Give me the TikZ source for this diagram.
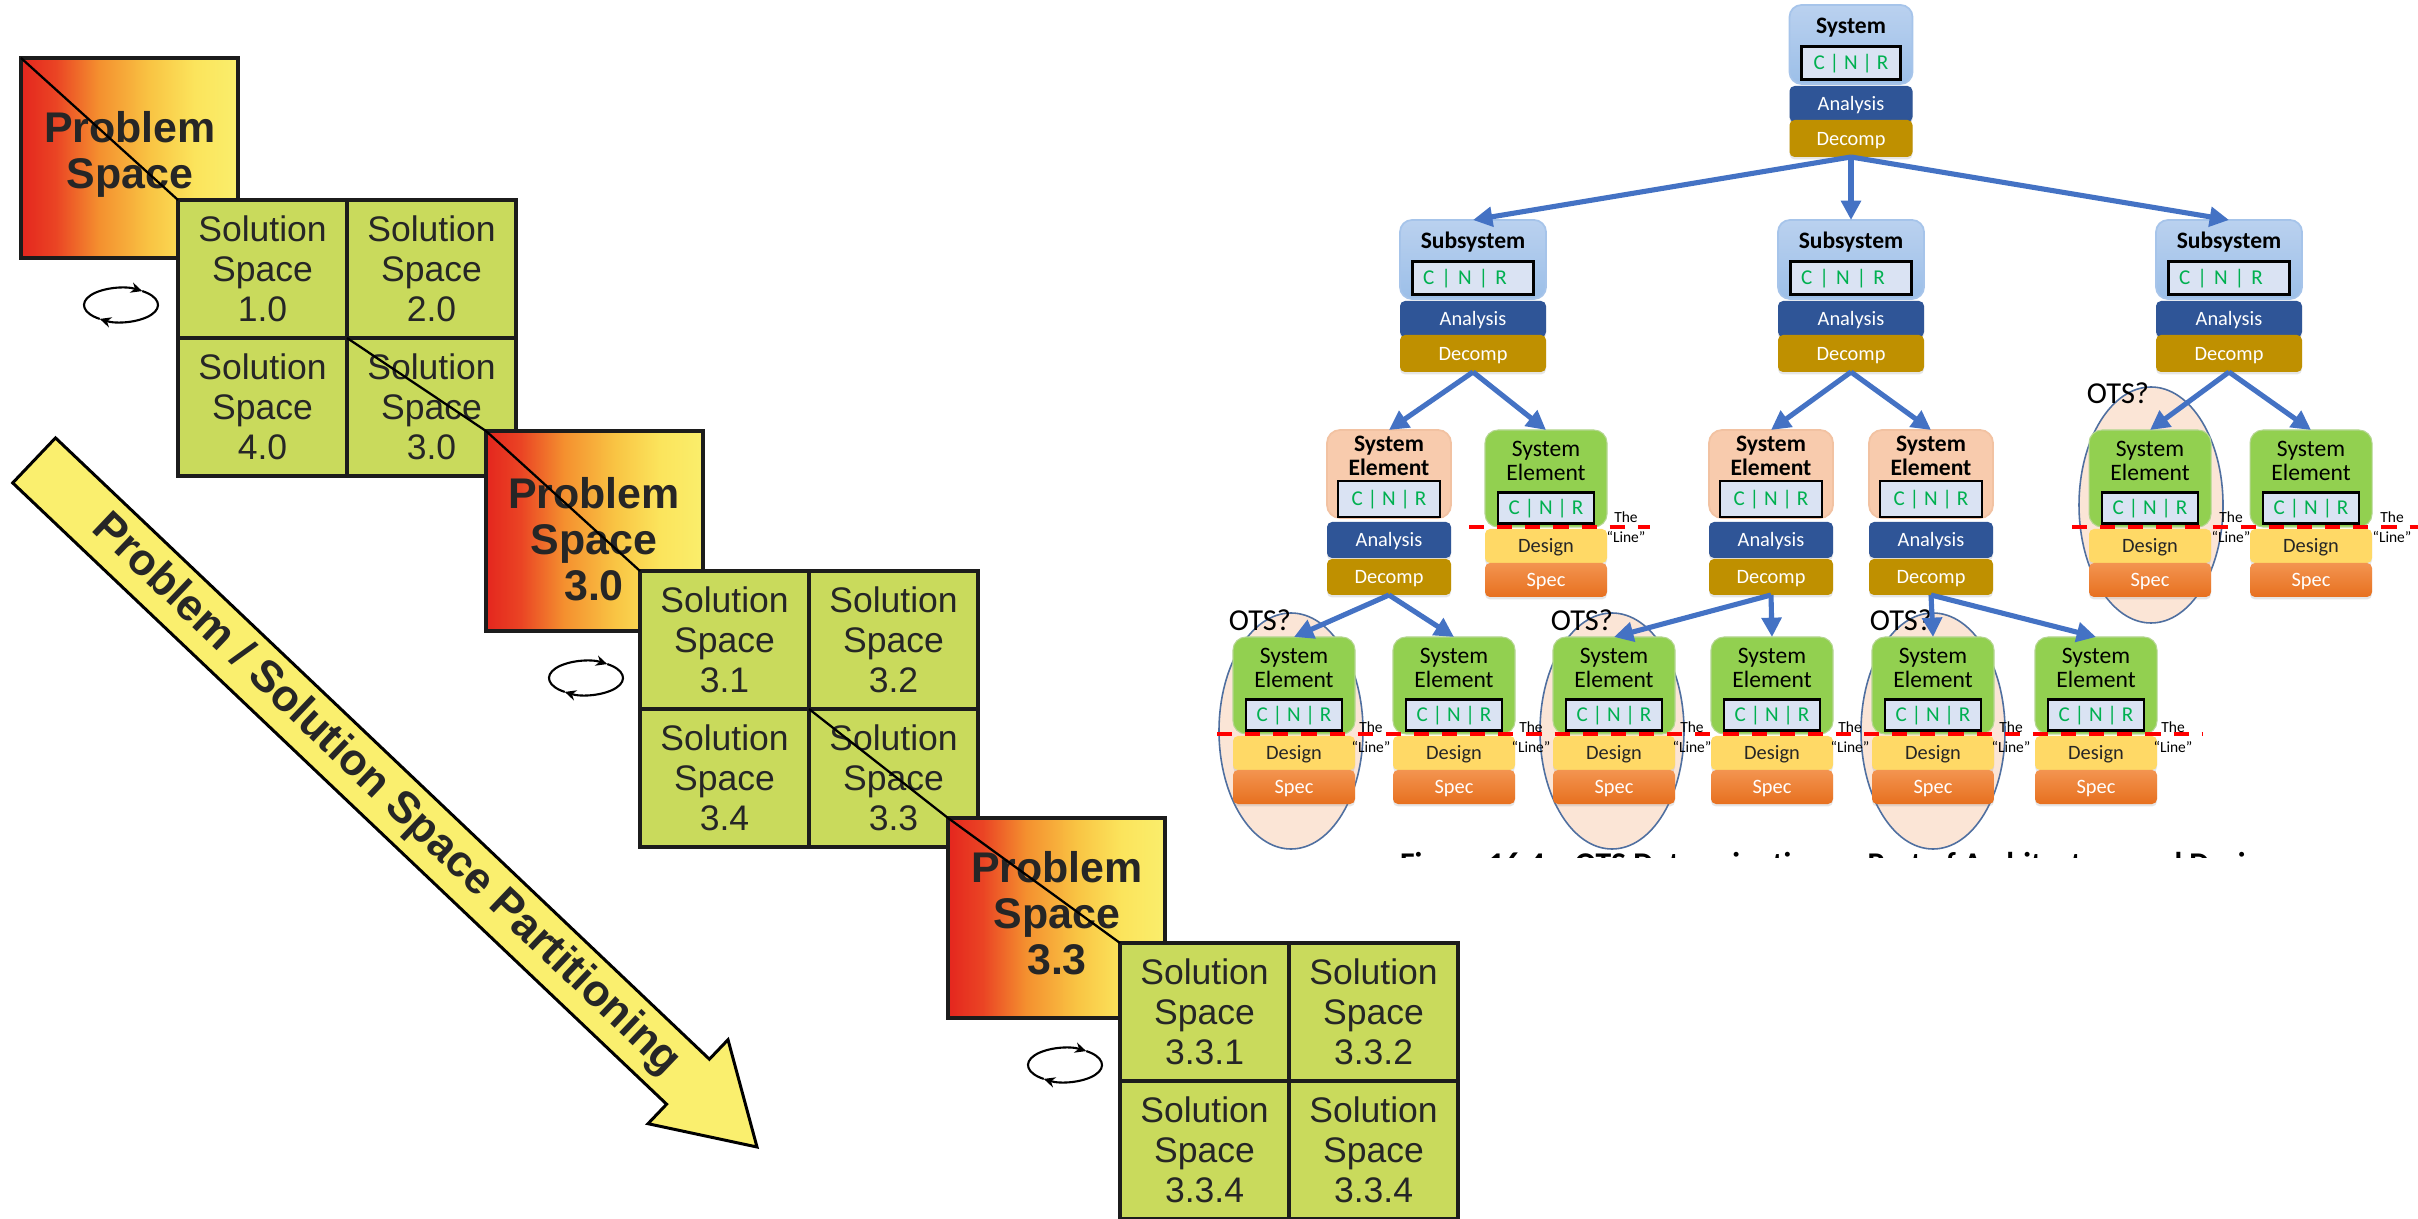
\documentclass[tikz,border=0pt]{standalone}
\usepackage{fontspec}
\setmainfont{Liberation Sans}
\newfontfamily\calfont{Carlito}
\usetikzlibrary{arrows.meta,shadows,shapes.geometric}

\newdimen\pxd
\pxd=0.01cm

% left figure colours
\definecolor{psred}{HTML}{E4261E}
\definecolor{psredb}{HTML}{EA4424}
\definecolor{psorange}{HTML}{F4902F}
\definecolor{psamber}{HTML}{F9C544}
\definecolor{psyellow}{HTML}{FBE45C}
\definecolor{pslight}{HTML}{FAEE6C}
\definecolor{solgreen}{HTML}{C9DA5C}
\definecolor{edgeblack}{HTML}{1C1C1C}
\definecolor{txtgrey}{HTML}{262626}
\definecolor{arrowyellow}{HTML}{FAEF6E}
% right figure colours
\definecolor{sysblueT}{HTML}{BAD1EF}
\definecolor{sysblueB}{HTML}{9CBFE8}
\definecolor{sysedge}{HTML}{A6C4EA}
\definecolor{cnrfill}{HTML}{DAE3F3}
\definecolor{cnrtext}{HTML}{00B050}
\definecolor{anablue}{HTML}{2F5597}
\definecolor{decgold}{HTML}{BF9000}
\definecolor{peach}{HTML}{F8CBAD}
\definecolor{peachedge}{HTML}{F2C2A2}
\definecolor{elgreen}{HTML}{92D050}
\definecolor{desyel}{HTML}{FFD966}
\definecolor{specT}{HTML}{F39450}
\definecolor{specB}{HTML}{E7701F}
\definecolor{ellfill}{HTML}{FBE5D6}
\definecolor{elledge}{HTML}{4F6FA0}
\definecolor{treeblue}{HTML}{4472C4}
\definecolor{linered}{HTML}{FF0000}

\pgfdeclarehorizontalshading{psgrad}{100bp}{color(0bp)=(psred); color(25bp)=(psred); color(33bp)=(psredb); color(43bp)=(psorange); color(55bp)=(psamber); color(65bp)=(psyellow); color(75bp)=(pslight); color(100bp)=(pslight)}

\pgfdeclarelayer{back}
\pgfsetlayers{back,main}

\tikzset{
  every node/.style={inner sep=0pt, outer sep=0pt},
  % left figure
  psbox/.style={draw=edgeblack, line width=0.95pt, shade, shading=psgrad, minimum width=217\pxd, minimum height=200\pxd, anchor=north west},
  pstext/.style={font=\bfseries\fontsize{12.2}{13.1}\selectfont, text=txtgrey, align=center},
  cellbox/.style={draw=edgeblack, line width=0.95pt, fill=solgreen, minimum width=169\pxd, minimum height=138\pxd, anchor=north west, font=\fontsize{10.1}{11.4}\selectfont, text=txtgrey, align=center},
  funnel/.style={draw=black, line width=0.65pt},
  cyclearc/.style={draw=black, line width=0.6pt, -{Stealth[length=3.2pt, width=3pt]}},
  bigarrow/.style={draw=black, line width=0.85pt, fill=arrowyellow, line join=miter},
  arrowtext/.style={font=\bfseries\fontsize{12.6}{13}\selectfont, text=txtgrey},
  % right figure
  bluebox/.style={draw=sysedge, line width=0.5pt, top color=sysblueT, bottom color=sysblueB, rounded corners=12\pxd, anchor=north},
  peachbox/.style={draw=peachedge, line width=0.5pt, fill=peach, rounded corners=13\pxd, anchor=north, minimum width=124\pxd, minimum height=88\pxd},
  greenbox/.style={draw=elgreen!90!black!60, line width=0.3pt, fill=elgreen, rounded corners=13\pxd, anchor=north, minimum width=122\pxd, minimum height=97\pxd},
  titlebold/.style={font=\calfont\bfseries\fontsize{6.7}{6.85}\selectfont, align=center},
  titlereg/.style={font=\calfont\fontsize{6.7}{6.85}\selectfont, align=center},
  cnrbox/.style={draw=black, line width=0.6pt, fill=cnrfill, text=cnrtext, font=\calfont\fontsize{6.0}{6.3}\selectfont, text height=3.86pt, text depth=0pt},
  barbase/.style={minimum height=36\pxd, rounded corners=5\pxd, anchor=north, font=\calfont\fontsize{5.8}{6}\selectfont, text height=3.74pt, text depth=0pt, drop shadow={shadow xshift=0pt, shadow yshift=-0.7pt, opacity=0.2}},
  anabar/.style={barbase, fill=anablue, text=white},
  decbar/.style={barbase, fill=decgold, text=white},
  desbar/.style={barbase, fill=desyel, text=black!85},
  specbar/.style={barbase, top color=specT, bottom color=specB, text=white},
  otsell/.style={ellipse, draw=elledge, line width=0.45pt, fill=ellfill, minimum width=144\pxd, minimum height=236\pxd},
  otstxt/.style={font=\calfont\fontsize{8.65}{9}\selectfont},
  linelbl/.style={font=\calfont\fontsize{4.4}{5.7}\selectfont, align=center},
  redline/.style={draw=linered, line width=0.95pt, dash pattern=on 4.3pt off 3.7pt},
  treearrow/.style={draw=treeblue, line width=1.45pt, -{Triangle[length=5.5pt, width=5.5pt]}},
  captxt/.style={font=\calfont\bfseries\fontsize{9}{10}\selectfont},
}

% blue block (system / subsystem): name, centre x, top y, width, C|N|R width, title, C|N|R options
\newcommand\BlueBlock[7]{%
  \node[bluebox, minimum width=#4\pxd, minimum height=79\pxd] (#1) at (#2,#3) {};
  \node[titlebold, anchor=base] (#1t) at (#2,#3+28.5) {#6};
  \node[cnrbox, minimum width=#5\pxd, minimum height=33\pxd, #7] (#1c) at (#2,#3+58) {C | N | R};
  \node[anabar, minimum width=#4\pxd] (#1a) at (#2,#3+81) {Analysis};
  \node[decbar, minimum width=#4\pxd, minimum height=37\pxd] (#1d) at (#2,#3+115) {Decomp};
}
% element still to be decomposed: name, centre x, top y
\newcommand\PeachBlock[3]{%
  \node[peachbox] (#1) at (#2,#3) {};
  \node[titlebold] (#1t) at (#2,#3+26) {System\\Element};
  \node[cnrbox, minimum width=102\pxd, minimum height=36\pxd] (#1c) at (#2,#3+69) {C | N | R};
  \node[anabar, minimum width=124\pxd] (#1a) at (#2,#3+92) {Analysis};
  \node[decbar, minimum width=124\pxd] (#1d) at (#2,#3+129) {Decomp};
}
% element below the line: name, centre x, top y
\newcommand\GreenBlock[3]{%
  \node[greenbox] (#1) at (#2,#3) {};
  \node[titlereg] (#1t) at (#2,#3+30.5) {System\\Element};
  \node[cnrbox, minimum width=96\pxd, minimum height=31\pxd] (#1c) at (#2,#3+78) {C | N | R};
  \node[desbar, minimum width=122\pxd, minimum height=34\pxd] (#1g) at (#2,#3+99) {Design};
  \node[specbar, minimum width=122\pxd, minimum height=34\pxd] (#1s) at (#2,#3+133) {Spec};
}

\begin{document}
\begin{tikzpicture}[x=0.01cm, y=-0.01cm]
\fill[white] (0,0) rectangle (2418,1219);
\useasboundingbox (0,0) rectangle (2418,1219);

% ===================== problem / solution partitioning =====================
\draw[bigarrow] (55.5,437.9) -- (709.4,1059.2) -- (728,1039.7) -- (757,1147)
   -- (648,1123.7) -- (666.6,1104.2) -- (12.7,482.9) -- cycle;
\node[arrowtext, rotate=-43.54] (ptext) at (386,795) {Problem / Solution Space Partitioning};

\node[psbox] (ps1) at (21,58) {};
\node[pstext] (ps1t) at (130,154) {Problem\\Space};
\node[cellbox] (g1tl) at (178,200) {Solution\\Space\\1.0};
\node[cellbox] (g1tr) at (347,200) {Solution\\Space\\2.0};
\node[cellbox] (g1bl) at (178,338) {Solution\\Space\\4.0};
\node[cellbox] (g1br) at (347,338) {Solution\\Space\\3.0};

\node[psbox] (ps2) at (486,431) {};
\node[pstext] (ps2t) at (594,539) {Problem\\Space\\3.0};
\node[cellbox] (g2tl) at (640,571) {Solution\\Space\\3.1};
\node[cellbox] (g2tr) at (809,571) {Solution\\Space\\3.2};
\node[cellbox] (g2bl) at (640,709) {Solution\\Space\\3.4};
\node[cellbox] (g2br) at (809,709) {Solution\\Space\\3.3};

\node[psbox] (ps3) at (948,818) {};
\node[pstext] (ps3t) at (1057,913) {Problem\\Space\\3.3};
\node[cellbox] (g3tl) at (1120,943) {Solution\\Space\\3.3.1};
\node[cellbox] (g3tr) at (1289,943) {Solution\\Space\\3.3.2};
\node[cellbox] (g3bl) at (1120,1081) {Solution\\Space\\3.3.4};
\node[cellbox] (g3br) at (1289,1081) {Solution\\Space\\3.3.4};

% funnel edges behind the boxes
\begin{pgfonlayer}{back}
\draw[funnel] (ps1.north east) -- (g1tr.north east);
\draw[funnel] (ps1.south west) -- (g1bl.south west);
\draw[funnel] (g1br.north east) -- (ps2.north east);
\draw[funnel] (g1br.south west) -- (ps2.south west);
\draw[funnel] (ps2.north east) -- (g2tr.north east);
\draw[funnel] (ps2.south west) -- (g2bl.south west);
\draw[funnel] (g2br.north east) -- (ps3.north east);
\draw[funnel] (g2br.south west) -- (ps3.south west);
\draw[funnel] (ps3.north east) -- (g3tr.north east);
\draw[funnel] (ps3.south west) -- (g3bl.south west);
\end{pgfonlayer}
% funnel edges seen across the boxes
\draw[funnel] (ps1.north west) -- (g1tl.north west);
\draw[funnel] (g1br.north west) -- (ps2.north west);
\draw[funnel] (ps2.north west) -- (g2tl.north west);
\draw[funnel] (g2br.north west) -- (ps3.north west);
\draw[funnel] (ps3.north west) -- (g3tl.north west);

% iteration symbols
\foreach \cx/\cy [count=\i] in {121/305, 586/678, 1065/1065} {
  \coordinate (cyc\i) at (\cx,\cy);
  \draw[cyclearc] ([shift={(125:37 and 17)}]cyc\i) arc[start angle=125, end angle=305, x radius=37, y radius=17];
  \draw[cyclearc] ([shift={(305:37 and 17)}]cyc\i) arc[start angle=305, end angle=485, x radius=37, y radius=17];
}

% ===================== system hierarchy =====================
\fill[white] (1217,0) rectangle (2418,857);
\begin{scope}
  \clip (1217,0) rectangle (2418,857);
  \node[captxt, anchor=base west] (caption) at (1400,874) {Figure 16.4 – OTS Determination as Part of Architecture and Design};
\end{scope}

% off-the-shelf candidates
\node[otsell] (ovL) at (2151,505) {};
\node[otsell] (ovA) at (1291,731) {};
\node[otsell] (ovC) at (1612,731) {};
\node[otsell] (ovE) at (1933,731) {};
\node[otstxt] (otL) at (2118,393) {OTS?};
\node[otstxt] (otA) at (1260,620) {OTS?};
\node[otstxt] (otC) at (1582,620) {OTS?};
\node[otstxt] (otE) at (1901,620) {OTS?};

\BlueBlock{sys}{1851}{5}{123}{99}{System}{}
\BlueBlock{subA}{1473}{220}{146}{121}{Subsystem}{text width=100\pxd, align=left}
\BlueBlock{subB}{1851}{220}{146}{121}{Subsystem}{text width=100\pxd, align=left}
\BlueBlock{subC}{2229}{220}{146}{121}{Subsystem}{text width=100\pxd, align=left}

\PeachBlock{ea}{1389}{430}
\GreenBlock{eb}{1546}{430}
\PeachBlock{ec}{1771}{430}
\PeachBlock{ed}{1931}{430}
\GreenBlock{ee}{2150}{430}
\GreenBlock{ef}{2311}{430}

\GreenBlock{fa}{1294}{637}
\GreenBlock{fb}{1454}{637}
\GreenBlock{fc}{1614}{637}
\GreenBlock{fd}{1772}{637}
\GreenBlock{fe}{1933}{637}
\GreenBlock{ff}{2096}{637}

% decomposition arrows
\draw[treearrow] (sysd.south) -- (subA.north);
\draw[treearrow] (sysd.south) -- (subB.north);
\draw[treearrow] (sysd.south) -- (subC.north);
\draw[treearrow] (subAd.south) -- (ea.north);
\draw[treearrow] (subAd.south) -- (eb.north);
\draw[treearrow] (subBd.south) -- (ec.north);
\draw[treearrow] (subBd.south) -- (ed.north);
\draw[treearrow] (subCd.south) -- (ee.north);
\draw[treearrow] (subCd.south) -- (ef.north);
\draw[treearrow] (ead.south) -- (fa.north);
\draw[treearrow] (ead.south) -- (fb.north);
\draw[treearrow] (ecd.south) -- (fc.north);
\draw[treearrow] (ecd.south) -- (fd.north);
\draw[treearrow] (edd.south) -- (fe.north);
\draw[treearrow] (edd.south) -- (ff.north);

% the line between definition and design
\draw[redline] (1469,527) -- (1650,527);
\draw[redline] (2072,527) -- (2418,527);
\draw[redline] (1217,734) -- (2202,734);

\node[linelbl] (lb) at (1626,527) {The\\“Line”};
\node[linelbl] (le) at (2231,527) {The\\“Line”};
\node[linelbl] (lf) at (2392,527) {The\\“Line”};
\node[linelbl] (l3a) at (1371,737) {The\\“Line”};
\node[linelbl] (l3b) at (1531,737) {The\\“Line”};
\node[linelbl] (l3c) at (1692,737) {The\\“Line”};
\node[linelbl] (l3d) at (1850,737) {The\\“Line”};
\node[linelbl] (l3e) at (2011,737) {The\\“Line”};
\node[linelbl] (l3f) at (2173,737) {The\\“Line”};
\end{tikzpicture}
\end{document}
